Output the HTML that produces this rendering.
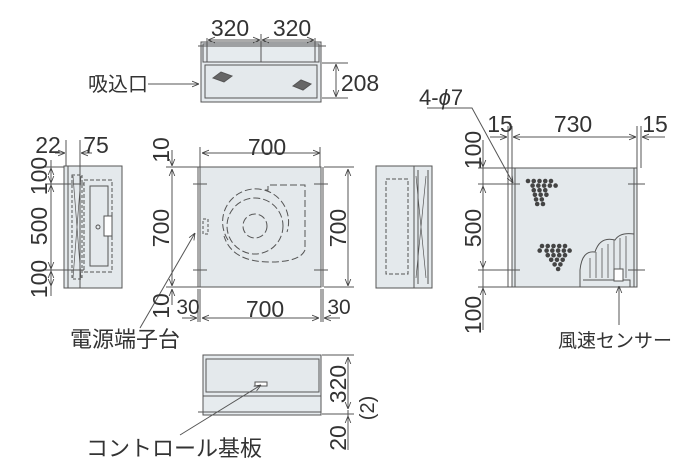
<!DOCTYPE html>
<html><head><meta charset="utf-8"><style>
html,body{margin:0;padding:0;background:#fff}
svg{display:block}
text{font-family:"Liberation Sans","Noto Sans CJK JP",sans-serif;fill:#333}
.n{font-size:23px;text-anchor:middle}
</style></head><body>
<svg width="685" height="472" viewBox="0 0 685 472" xmlns="http://www.w3.org/2000/svg">
<defs>
<marker id="a" viewBox="0 0 10 10" refX="10" refY="5" markerWidth="7" markerHeight="7" orient="auto-start-reverse"><path d="M0,1 L10,5 L0,9" fill="none" stroke="#444" stroke-width="1.2"/></marker>
</defs>
<g stroke="#555" stroke-width="1" fill="none">
<!-- TOP VIEW -->
<rect x="201" y="42" width="120" height="60" fill="#e6ebee"/>
<rect x="203" y="44" width="116" height="18"/>
<rect x="205" y="65" width="112" height="33" fill="#e4e9ec"/>
<line x1="198" y1="46" x2="326" y2="46"/>
<line x1="207" y1="38" x2="207" y2="62"/><line x1="261" y1="34" x2="261" y2="62"/><line x1="315" y1="38" x2="315" y2="62"/>
<line x1="208" y1="40" x2="260" y2="40" marker-start="url(#a)" marker-end="url(#a)"/>
<line x1="262" y1="40" x2="314" y2="40" marker-start="url(#a)" marker-end="url(#a)"/>
<line x1="322" y1="63" x2="348" y2="63"/><line x1="322" y1="98" x2="348" y2="98"/>
<line x1="336" y1="64" x2="336" y2="97" marker-start="url(#a)" marker-end="url(#a)"/>
<line x1="148" y1="84" x2="199" y2="84" marker-end="url(#a)"/>
<path d="M213,78 L221,72 L232,76 L224,82Z M293,86 L301,80 L311,84 L303,90Z" fill="#666"/>
<!-- LEFT SIDE -->
<rect x="64" y="166" width="58" height="122" fill="#e4e9ec"/>
<line x1="80" y1="166" x2="80" y2="288"/><line x1="68" y1="166" x2="68" y2="288"/>
<rect x="72" y="175" width="10" height="104" stroke-dasharray="3,2"/>
<path d="M73,176 L81,278 M81,176 L73,278" stroke-width="0.7"/>
<rect x="84" y="180" width="28" height="92" stroke-dasharray="4,2"/>
<rect x="90" y="186" width="18" height="80"/>
<rect x="104" y="216" width="8" height="20" fill="#fff"/>
<circle cx="98" cy="227" r="2"/>
<line x1="66" y1="140" x2="66" y2="166"/><line x1="80" y1="140" x2="80" y2="190"/>
<line x1="55" y1="153" x2="65" y2="153" marker-end="url(#a)"/><line x1="92" y1="153" x2="81" y2="153" marker-end="url(#a)"/>
<line x1="45" y1="167" x2="64" y2="167"/><line x1="45" y1="184" x2="84" y2="184"/><line x1="45" y1="270" x2="84" y2="270"/>
<line x1="51" y1="160" x2="51" y2="296"/>
<line x1="51" y1="168" x2="51" y2="183" marker-start="url(#a)" marker-end="url(#a)"/>
<line x1="51" y1="185" x2="51" y2="269" marker-start="url(#a)" marker-end="url(#a)"/>
<line x1="51" y1="271" x2="51" y2="286" marker-start="url(#a)" marker-end="url(#a)"/>
<!-- FRONT -->
<rect x="200" y="167" width="121" height="120" fill="#e4e9ec"/>
<line x1="198" y1="167" x2="198" y2="287"/><line x1="323" y1="167" x2="323" y2="287"/>
<line x1="193" y1="184" x2="207" y2="184"/><line x1="314" y1="184" x2="328" y2="184"/>
<line x1="193" y1="270" x2="207" y2="270"/><line x1="314" y1="270" x2="328" y2="270"/>
<rect x="203" y="219" width="5" height="15" stroke-dasharray="3,2"/>
<g stroke-dasharray="7,3">
<circle cx="255" cy="226" r="12"/>
<circle cx="255" cy="226" r="28"/>
<path d="M228,240 A33,33 0 1 1 287,232"/>
<path d="M265,190 L268,190 L268,185 L305,185 L305,250 Q300,262 270,262 Q232,262 224,236"/>
</g>
<line x1="202" y1="153" x2="320" y2="153" marker-start="url(#a)" marker-end="url(#a)"/>
<line x1="200" y1="147" x2="200" y2="167"/><line x1="320" y1="147" x2="320" y2="167"/>
<line x1="166" y1="167" x2="200" y2="167"/><line x1="166" y1="287" x2="200" y2="287"/>
<line x1="172" y1="150" x2="172" y2="166" marker-end="url(#a)"/>
<line x1="172" y1="169" x2="172" y2="286" marker-start="url(#a)" marker-end="url(#a)"/>
<line x1="172" y1="305" x2="172" y2="289" marker-end="url(#a)"/>
<line x1="324" y1="167" x2="354" y2="167"/><line x1="324" y1="287" x2="354" y2="287"/>
<line x1="348" y1="169" x2="348" y2="286" marker-start="url(#a)" marker-end="url(#a)"/>
<line x1="198" y1="289" x2="198" y2="322"/><line x1="200" y1="289" x2="200" y2="322"/>
<line x1="321" y1="289" x2="321" y2="322"/><line x1="323" y1="289" x2="323" y2="322"/>
<line x1="202" y1="318" x2="319" y2="318" marker-start="url(#a)" marker-end="url(#a)"/>
<line x1="182" y1="318" x2="197" y2="318" marker-end="url(#a)"/>
<line x1="340" y1="318" x2="324" y2="318" marker-end="url(#a)"/>
<line x1="140" y1="328" x2="195" y2="233" marker-end="url(#a)"/>
<!-- RIGHT SIDE -->
<rect x="376" y="166" width="56" height="122" fill="#e4e9ec"/>
<line x1="414" y1="166" x2="414" y2="288"/><line x1="418" y1="170" x2="418" y2="284"/><line x1="428" y1="170" x2="428" y2="284"/>
<rect x="386" y="179" width="22" height="95" stroke-dasharray="4,2"/>
<path d="M416,176 L426,278 M426,176 L416,278" stroke-width="0.7"/>
<!-- BACK -->
<rect x="512" y="168" width="125" height="119" fill="#e4e9ec"/>
<line x1="515" y1="168" x2="515" y2="287"/><line x1="634" y1="168" x2="634" y2="287"/>
<line x1="508" y1="126" x2="508" y2="287"/><line x1="512" y1="126" x2="512" y2="168"/>
<line x1="637" y1="126" x2="637" y2="168"/><line x1="641" y1="126" x2="641" y2="168"/>
<line x1="513" y1="137" x2="636" y2="137" marker-start="url(#a)" marker-end="url(#a)"/>
<line x1="490" y1="137" x2="507" y2="137" marker-end="url(#a)"/>
<line x1="665" y1="137" x2="642" y2="137" marker-end="url(#a)"/>
<line x1="478" y1="168" x2="512" y2="168"/><line x1="478" y1="184" x2="520" y2="184"/><line x1="478" y1="270" x2="520" y2="270"/><line x1="478" y1="287" x2="512" y2="287"/>
<line x1="628" y1="184" x2="645" y2="184"/><line x1="628" y1="270" x2="645" y2="270"/>
<line x1="483" y1="140" x2="483" y2="330"/>
<line x1="483" y1="153" x2="483" y2="167" marker-end="url(#a)"/>
<line x1="483" y1="186" x2="483" y2="268" marker-start="url(#a)" marker-end="url(#a)"/>
<line x1="483" y1="302" x2="483" y2="288" marker-end="url(#a)"/>
<polyline points="427,108 472,108 513,183" marker-end="url(#a)"/>
<path d="M580,287 L580,270 Q582,250 595,252 Q600,236 615,240 Q620,232 634,234" />
<path d="M583,280 L630,280 L630,287" />
<g stroke-width="0.8"><line x1="590" y1="258" x2="590" y2="278"/><line x1="596" y1="252" x2="596" y2="278"/><line x1="602" y1="248" x2="602" y2="278"/><line x1="608" y1="244" x2="608" y2="278"/><line x1="614" y1="240" x2="614" y2="278"/><line x1="620" y1="238" x2="620" y2="278"/><line x1="626" y1="236" x2="626" y2="278"/></g>
<rect x="614" y="269" width="9" height="12" fill="#fff"/>
<line x1="619" y1="325" x2="619" y2="286" marker-end="url(#a)"/>
<!-- BOTTOM VIEW -->
<rect x="203" y="355" width="118" height="60" fill="#e6ebee"/>
<rect x="206" y="359" width="113" height="33" fill="#e4e9ec"/>
<line x1="203" y1="396" x2="321" y2="396"/>
<line x1="198" y1="412" x2="321" y2="412"/>
<rect x="255" y="382" width="12" height="4" fill="#fff"/>
<line x1="322" y1="355" x2="354" y2="355"/><line x1="322" y1="414" x2="354" y2="414"/>
<line x1="348" y1="357" x2="348" y2="409" marker-start="url(#a)" marker-end="url(#a)"/>
<line x1="348" y1="410" x2="348" y2="450"/>
<line x1="348" y1="428" x2="348" y2="416" marker-end="url(#a)"/>
<line x1="180" y1="435" x2="261" y2="385" marker-end="url(#a)"/>
</g>
<g fill="#444">
<g transform="translate(528,181) scale(1.15)"><circle cx="0" cy="0" r="2"/><circle cx="5" cy="0" r="2"/><circle cx="10" cy="0" r="2"/><circle cx="15" cy="0" r="2"/><circle cx="20" cy="0" r="2"/><circle cx="4" cy="4" r="2"/><circle cx="9" cy="4" r="2"/><circle cx="14" cy="4" r="2"/><circle cx="19" cy="4" r="2"/><circle cx="24" cy="4" r="2"/><circle cx="5" cy="8" r="2"/><circle cx="10" cy="8" r="2"/><circle cx="15" cy="8" r="2"/><circle cx="6" cy="12" r="2"/><circle cx="11" cy="12" r="2"/><circle cx="16" cy="12" r="2"/><circle cx="7" cy="16" r="2"/><circle cx="12" cy="16" r="2"/><circle cx="8" cy="20" r="2"/><circle cx="13" cy="20" r="2"/></g>
<g transform="translate(542,246) scale(1.15)"><circle cx="0" cy="0" r="2"/><circle cx="5" cy="0" r="2"/><circle cx="10" cy="0" r="2"/><circle cx="15" cy="0" r="2"/><circle cx="20" cy="0" r="2"/><circle cx="-2" cy="4" r="2"/><circle cx="4" cy="4" r="2"/><circle cx="9" cy="4" r="2"/><circle cx="14" cy="4" r="2"/><circle cx="19" cy="4" r="2"/><circle cx="24" cy="4" r="2"/><circle cx="5" cy="8" r="2"/><circle cx="10" cy="8" r="2"/><circle cx="15" cy="8" r="2"/><circle cx="20" cy="8" r="2"/><circle cx="8" cy="12" r="2"/><circle cx="13" cy="12" r="2"/><circle cx="18" cy="12" r="2"/><circle cx="11" cy="16" r="2"/><circle cx="16" cy="16" r="2"/><circle cx="14" cy="20" r="2"/></g>
</g>
<g>
<text class="n" x="230" y="36">320</text><text class="n" x="292" y="36">320</text>
<text class="n" x="360" y="91">208</text>
<text x="88" y="91" font-size="20">吸込口</text>
<text class="n" x="48" y="153">22</text><text class="n" x="96" y="153">75</text>
<text class="n" x="267" y="155">700</text>
<text class="n" x="265" y="317">700</text>
<text class="n" x="188" y="314" style="font-size:21px">30</text><text class="n" x="339" y="314" style="font-size:21px">30</text>
<text x="419" y="105" font-size="22">4-<tspan font-style="italic">ϕ</tspan>7</text>
<text class="n" x="500" y="132">15</text><text class="n" x="573" y="132">730</text><text class="n" x="655" y="132">15</text>
<text x="70" y="347" font-size="22">電源端子台</text>
<text x="558" y="347" font-size="19">風速センサー</text>
<text x="86" y="456" font-size="22">コントロール基板</text>
<g transform="rotate(-90)">
<text class="n" x="-176" y="47">100</text>
<text class="n" x="-226" y="47">500</text>
<text class="n" x="-279" y="47">100</text>
<text class="n" x="-150" y="169">10</text>
<text class="n" x="-228" y="169">700</text>
<text class="n" x="-306" y="169">10</text>
<text class="n" x="-228" y="346">700</text>
<text class="n" x="-150" y="481">100</text>
<text class="n" x="-228" y="481">500</text>
<text class="n" x="-315" y="481">100</text>
<text class="n" x="-384" y="346">320</text>
<text class="n" x="-438" y="346">20</text>
<text class="n" x="-408" y="374" style="font-size:20px">(2)</text>
</g>
</g>
</svg>
</body></html>
